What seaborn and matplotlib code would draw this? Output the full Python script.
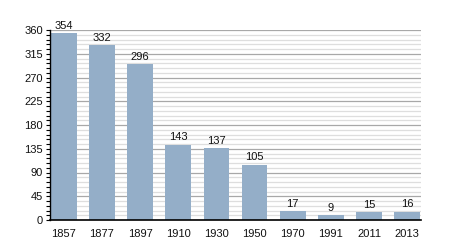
import matplotlib
matplotlib.use("Agg")
import matplotlib.pyplot as plt
import seaborn as sns
import pandas as pd
from matplotlib.ticker import MultipleLocator

years = ["1857", "1877", "1897", "1910", "1930", "1950", "1970", "1991", "2011", "2013"]
values = [354, 332, 296, 143, 137, 105, 17, 9, 15, 16]

sns.set_style("white")
plt.rcParams['font.family'] = ['Liberation Sans', 'DejaVu Sans']

df = pd.DataFrame({"year": years, "value": values})

fig = plt.figure(figsize=(4.5, 2.5), dpi=100)
ax = fig.add_axes([50/450, 30/250, 371/450, 190/250])

sns.barplot(data=df, x="year", y="value", color="#94aec8", saturation=1,
            width=0.67, ax=ax, zorder=3, linewidth=0)

ax.set_ylim(0, 360)
ax.set_xlim(-0.36, 9.36)
ax.yaxis.set_major_locator(MultipleLocator(45))
ax.yaxis.set_minor_locator(MultipleLocator(9))
ax.grid(axis="y", which="major", color="#a8a8a8", linewidth=0.9, zorder=0)
ax.grid(axis="y", which="minor", color="#dedede", linewidth=0.9, zorder=0)
ax.set_axisbelow(True)

for s in ["top", "right"]:
    ax.spines[s].set_visible(False)
for s in ["left", "bottom"]:
    ax.spines[s].set_color("black")
    ax.spines[s].set_zorder(5)
ax.spines["left"].set_linewidth(1.0)
ax.spines["bottom"].set_linewidth(1.2)

ax.tick_params(axis="y", which="major", left=True, length=3, width=0.8, color="black",
               labelsize=8, pad=2, labelcolor="#111111")
ax.tick_params(axis="y", which="minor", left=True, length=3, width=0.8, color="black")
ax.tick_params(axis="x", bottom=False, labelsize=8, pad=3, labelcolor="#111111")

ax.set_xlabel("")
ax.set_ylabel("")

for i, v in enumerate(values):
    ax.text(i, v + 4, str(v), ha="center", va="bottom", fontsize=8, color="#111111")

fig.savefig("out.png", dpi=100)
